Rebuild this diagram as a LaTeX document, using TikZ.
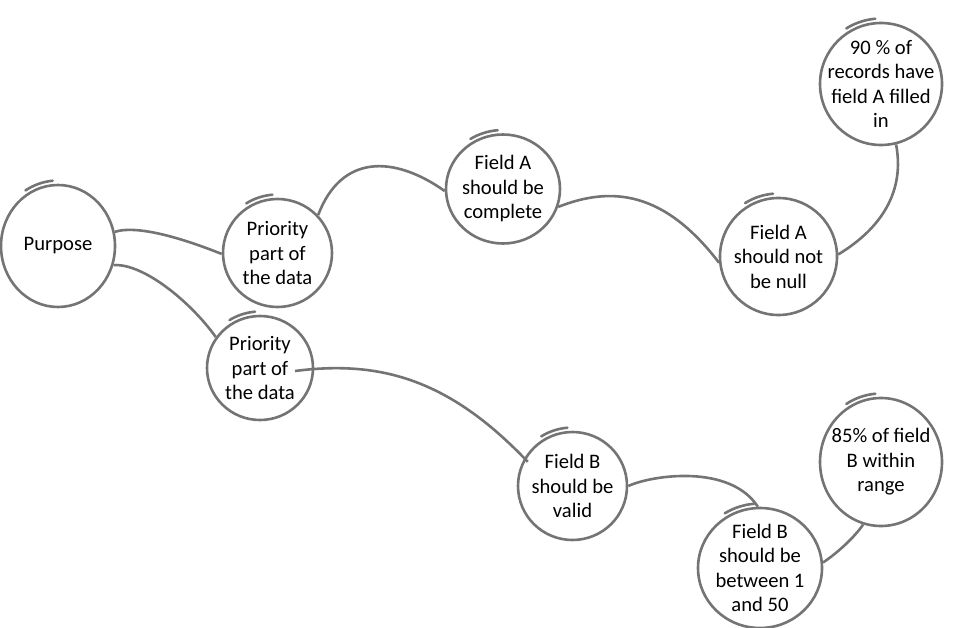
\documentclass[tikz,border=0pt]{standalone}
\usepackage{fontspec}
\setmainfont{Carlito}
\usetikzlibrary{shapes.geometric,calc}
\definecolor{lc}{RGB}{116,116,116}
\tikzset{
  bub/.style={ellipse, draw=lc, line width=2.6pt, inner sep=-14pt, align=center,
    font=\fontsize{20.6}{24.5}\selectfont, text=black},
  link/.style={draw=lc, line width=2.6pt},
  tick/.style={draw=lc, line width=2.6pt, line cap=round}
}
\newcommand\mkbub[6]{%
  \node[bub, minimum width={2*#4pt}, minimum height={2*#5pt}] (#1) at (#2,#3) {#6};
  \draw[tick] (#1.center) ++(-95:{#4+4.5} and {#5+4.5})
    arc[start angle=-95, end angle=-122, x radius={#4+4.5}, y radius={#5+4.5}];
}
\begin{document}
\begin{tikzpicture}[x=1pt,y=-1pt]
\useasboundingbox (0,0) rectangle (960,628);
\mkbub{pur}{58}{246}{57}{61}{Purpose}
\mkbub{pa}{277.5}{253}{54.5}{54}{Priority\\part of\\the data}
\mkbub{pb}{260}{368}{53}{52}{Priority\\part of\\the data}
\mkbub{fac}{503}{189}{57}{54.5}{Field A\\should be\\complete}
\mkbub{fan}{778.5}{256.5}{58.5}{58.5}{Field A\\should not\\be null}
\mkbub{nn}{881}{84}{61}{61}{90 \% of\\records have\\field A filled\\in}
\mkbub{fbv}{572.5}{486}{54.5}{54}{Field B\\should be\\valid}
\mkbub{fbr}{760}{568}{62}{60}{Field B\\should be\\between 1\\and 50}
\mkbub{ne}{881}{462}{61}{64}{85\% of field\\B within\\range}

\coordinate (pbin) at ($(pb.center)+(35,3)$);

\draw[link] (pur.14) .. controls +(25,-8) and +(-30,-12) .. (pa.181);
\draw[link] (pur.-19) .. controls +(30,-2) and +(-25,-35) .. (pb.145);
\draw[link] (pa.43) .. controls +(23,-61) and +(-51,-36) .. (fac.182);
\draw[link] (fac.-18) .. controls +(53,-21) and +(-55,-72) .. (fan.186);
\draw[link] (fan.2) .. controls +(43,-26) and +(9,47) .. (nn.-76);
\draw[link, shorten >=-5pt] (pbin) .. controls +(85,-11) and +(-75,-79) .. (fbv.150);
\draw[link] (fbv.0) .. controls +(24,-11) and +(-28,-43) .. (fbr.92);
\draw[link] (fbr.5) .. controls +(15,-10) and +(-8,12) .. (ne.-106);
\end{tikzpicture}
\end{document}
